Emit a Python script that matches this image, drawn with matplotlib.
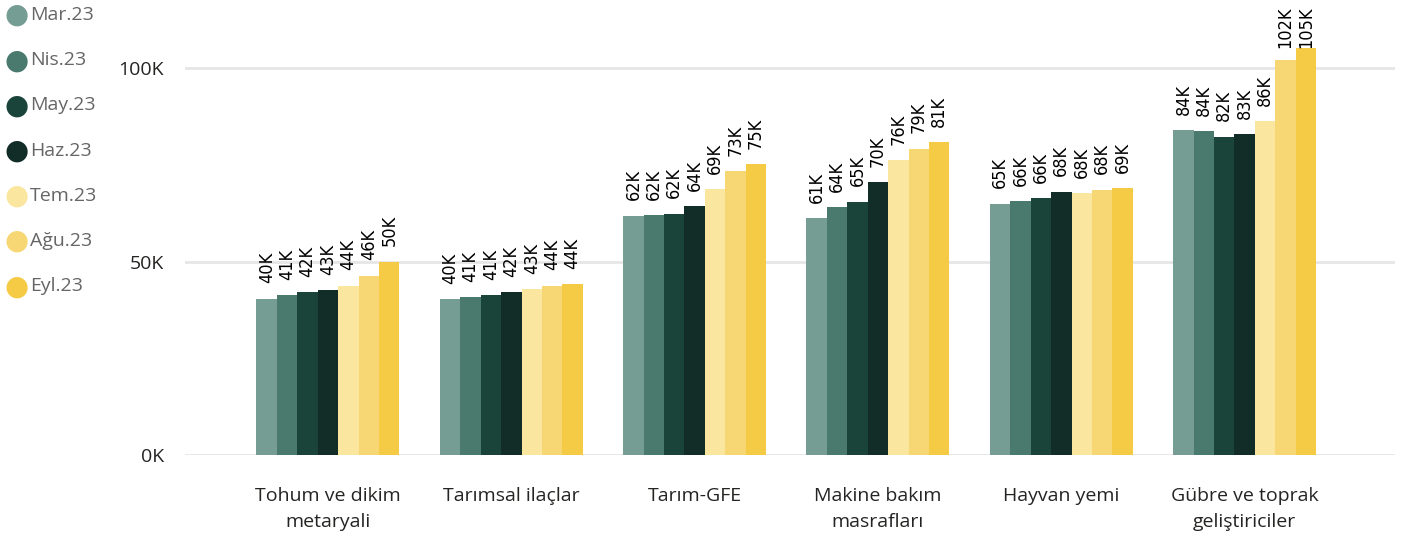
import matplotlib
matplotlib.use("Agg")
import matplotlib.pyplot as plt
import numpy as np

categories = ["Tohum ve dikim\nmetaryali", "Tarımsal ilaçlar", "Tarım-GFE",
              "Makine bakım\nmasrafları", "Hayvan yemi", "Gübre ve toprak\ngeliştiriciler"]
months = ["Mar.23", "Nis.23", "May.23", "Haz.23", "Tem.23", "Ağu.23", "Eyl.23"]
colors = ["#769D94", "#497A6D", "#1A4339", "#122C27", "#FBE6A0", "#F7D774", "#F5CB45"]

# values in thousands, one list per month
mar = [40.4, 40.3, 61.8, 61.2, 64.9, 84.0]
nis = [41.3, 40.8, 62.0, 64.1, 65.6, 83.7]
may = [42.1, 41.3, 62.3, 65.4, 66.4, 82.2]
haz = [42.6, 42.1, 64.3, 70.5, 68.0, 82.9]
tem = [43.7, 42.9, 68.7, 76.2, 67.7, 86.3]
agu = [46.3, 43.7, 73.4, 79.1, 68.5, 102.1]
eyl = [49.9, 44.2, 75.2, 80.9, 69.0, 105.2]
series = [mar, nis, may, haz, tem, agu, eyl]

yticks = [0, 50, 100]

plt.rcParams["font.family"] = ["Open Sans", "DejaVu Sans"]

fig = plt.figure(figsize=(14.08, 5.36), dpi=100)
ax = fig.add_axes([185 / 1408, 81 / 536, 1210 / 1408, 455 / 536])

ymax = 117.6
ax.set_ylim(0, ymax)
ax.set_xlim(-0.78, 5.82)

n = len(series)
group_w = 0.78
bw = group_w / n
x = np.arange(len(categories))

for j, vals in enumerate(series):
    xs = x - group_w / 2 + bw * (j + 0.5)
    ax.bar(xs, vals, width=bw, color=colors[j], zorder=3, linewidth=0)
    for xi, v in zip(xs, vals):
        txt = f"{round(v):.0f}K"
        length = 2.9 * len(txt)
        yb = min(v + 4.0, ymax - 0.8 - length)
        ax.text(xi, yb, txt, rotation=90, ha="center", va="bottom",
                fontsize=13, color="#000000", zorder=4,
                family=["DejaVu Sans"], fontstretch="condensed")

for t in yticks:
    ax.axhline(t, color="#E6E6E6", linewidth=2, zorder=1)

ax.set_yticks(yticks)
ax.set_yticklabels([f"{t}K" for t in yticks], fontsize=14, color="#252423")
ax.tick_params(axis="y", length=0, pad=15)
ax.set_xticks(x)
ax.set_xticklabels(categories, fontsize=14, color="#252423", linespacing=1.6)
ax.tick_params(axis="x", length=0, pad=23)
for s in ax.spines.values():
    s.set_visible(False)

# legend drawn as a column of dots at the top left
for j, (m, c) in enumerate(zip(months, colors)):
    yy = 1 - (15 + 45.2 * j) / 536
    fig.text(17 / 1408, yy, "\u25CF", color=c, fontsize=20, ha="center", va="center",
             family=["DejaVu Sans"])
    fig.text(30 / 1408, yy, m, color="#666666", fontsize=14, ha="left", va="center")

fig.savefig("out.png", dpi=100)
